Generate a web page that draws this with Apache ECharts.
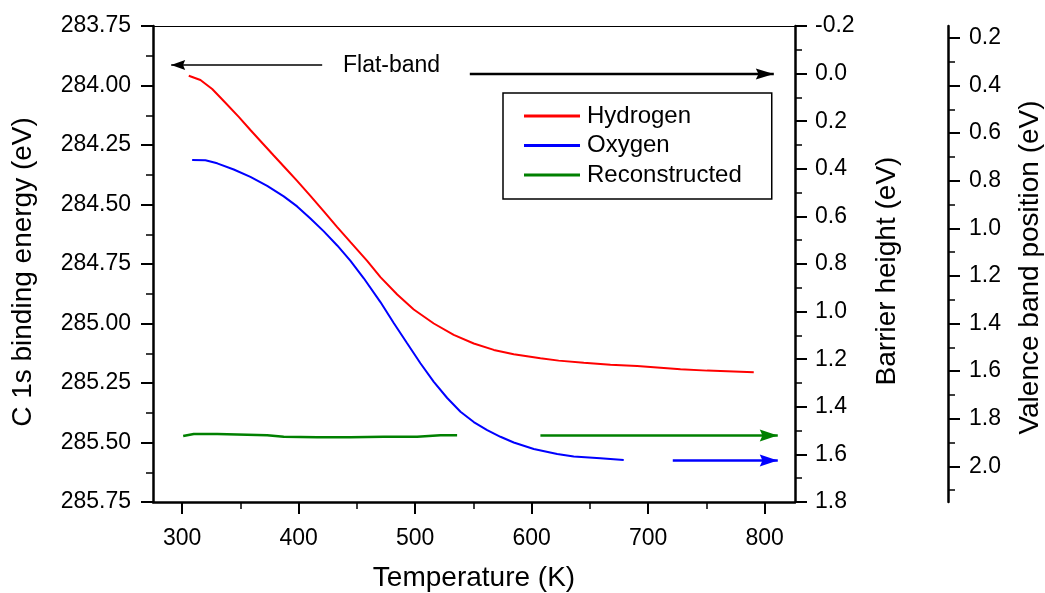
<!DOCTYPE html>
<html>
<head>
<meta charset="utf-8">
<title>C 1s binding energy vs temperature</title>
<script src="https://cdn.jsdelivr.net/npm/echarts@6/dist/echarts.min.js"></script>
<style>
  html, body { margin: 0; padding: 0; background: #fff; }
  #chart { width: 1045px; height: 593px; }
</style>
</head>
<body>
<div id="chart"></div>
<script>
// Hydrogen-terminated surface: temperature (K) and C 1s binding energy (eV)
const hydrogenT  = [305.7, 315.7, 325.8, 335.7, 348.6, 358.6, 367.2, 378.6, 390.1, 398.7, 410.1, 421.6, 433.1, 444.5, 458.8, 470.2, 484.6, 498.8, 516.0, 533.1, 550.3, 567.5, 584.6, 607.5, 623.2, 644.7, 667.6, 690.5, 704.8, 727.7, 750.6, 790.6];
const hydrogenBE = [283.959, 283.977, 284.015, 284.065, 284.132, 284.187, 284.233, 284.294, 284.355, 284.401, 284.464, 284.529, 284.595, 284.658, 284.737, 284.805, 284.878, 284.941, 285.000, 285.048, 285.084, 285.111, 285.129, 285.146, 285.156, 285.165, 285.173, 285.179, 285.184, 285.192, 285.198, 285.205];

// Oxygen-terminated surface
const oxygenT  = [308.6, 320.0, 330.1, 344.3, 358.6, 373.0, 387.2, 398.7, 410.1, 421.6, 433.1, 444.5, 455.9, 470.2, 481.6, 493.1, 504.5, 516.0, 527.5, 538.9, 550.3, 561.8, 573.2, 584.6, 601.8, 621.9, 636.1, 659.0, 679.0];
const oxygenBE = [284.313, 284.314, 284.327, 284.353, 284.384, 284.422, 284.466, 284.508, 284.559, 284.613, 284.672, 284.737, 284.810, 284.910, 284.998, 285.083, 285.167, 285.245, 285.313, 285.371, 285.414, 285.448, 285.476, 285.500, 285.527, 285.548, 285.559, 285.566, 285.574];

// Reconstructed surface
const reconT  = [300.9, 310.0, 330.1, 373.0, 387.2, 415.9, 444.5, 473.1, 501.7, 521.7, 536.0];
const reconBE = [285.473, 285.464, 285.464, 285.470, 285.476, 285.478, 285.478, 285.476, 285.476, 285.470, 285.470];

// Continuation arrows at high temperature [T, BE], tail then tip
const reconTail  = [[607.5, 285.471], [811.2, 285.471]];
const oxygenTail = [[721.1, 285.576], [811.2, 285.576]];

// Flat-band arrows [T, BE], tail then tip
const flatLeft  = [[420.2, 283.914], [290.6, 283.914]];
const flatRight = [[546.9, 283.952], [807.8, 283.952]];

// Axis ticks
const tempMajor = [300, 400, 500, 600, 700, 800];
const tempMinor = [350, 450, 550, 650, 750];
const vbMajor = [0.2, 0.4, 0.6, 0.8, 1.0, 1.2, 1.4, 1.6, 1.8, 2.0];
const vbMinor = [0.3, 0.5, 0.7, 0.9, 1.1, 1.3, 1.5, 1.7, 1.9, 2.1];

const FONT = "'Liberation Sans', Arial, sans-serif";
const zip = (xs, ys) => xs.map((x, i) => [x, ys[i]]);

const axisLine = { show: true, onZero: false, lineStyle: { color: '#000', width: 2.5 } };
const majorTick = { show: true, inside: false, length: 12, lineStyle: { color: '#000', width: 2 } };
const minorTickAxis = { show: true, inside: false, length: 7, lineStyle: { color: '#000', width: 1.5 } };
const labelStyle = { color: '#000', fontSize: 23, fontFamily: FONT };
const nameStyle = { color: '#000', fontSize: 28, fontFamily: FONT };

// Rotated axis titles sit a little below the vertical centre of the plot
const shiftedName = pad => Object.assign({}, nameStyle, { padding: [0, pad, 0, 0] });

// Solid arrow heads with a shallow notch
const HEAD_RIGHT = 'path://M20,5L0,10L3,5L0,0Z';
const HEAD_LEFT  = 'path://M0,5L20,0L17,5L20,10Z';

// A straight arrow drawn as a two-point line whose last point carries the head;
// the head is shifted back so its tip lands on the last point
function arrowSeries(name, pts, color, width, head, size) {
  const dir = pts[1][0] > pts[0][0] ? -1 : 1;
  return {
    name: name, type: 'line', xAxisIndex: 0, yAxisIndex: 0,
    silent: true, showSymbol: true, emphasis: { disabled: true },
    lineStyle: { color: color, width: width }, itemStyle: { color: color },
    data: [
      { value: pts[0], symbol: 'none' },
      { value: pts[1], symbol: head, symbolSize: size, symbolOffset: [dir * size[0] / 2, 0] }
    ]
  };
}

const chart = echarts.init(document.getElementById('chart'), null, { renderer: 'canvas' });

chart.setOption({
  animation: false,
  backgroundColor: '#fff',
  grid: { left: 153, right: 250, top: 26, bottom: 91, containLabel: false, outerBoundsMode: 'none' },
  legend: {
    orient: 'vertical',
    left: 503, top: 93,
    padding: [11, 30, 12, 21],
    itemWidth: 56, itemHeight: 3, itemGap: 5.5,
    icon: 'rect',
    selectedMode: false,
    borderColor: '#000', borderWidth: 1.5, backgroundColor: '#fff',
    textStyle: { color: '#000', fontSize: 24, fontFamily: FONT, lineHeight: 24, padding: [0, 0, 0, 2] },
    data: ['Hydrogen', 'Oxygen', 'Reconstructed']
  },
  graphic: [{
    type: 'text', x: 343, y: 66, silent: true,
    style: { text: 'Flat-band', fill: '#000', fontSize: 23, fontFamily: FONT, verticalAlign: 'middle' }
  }],
  xAxis: [
    {
      type: 'value', position: 'bottom', min: 275, max: 826,
      name: 'Temperature (K)', nameLocation: 'middle', nameGap: 62, nameTextStyle: nameStyle,
      axisLine: axisLine,
      axisTick: Object.assign({}, majorTick, { customValues: tempMajor }),
      axisLabel: Object.assign({}, labelStyle, { margin: 25, customValues: tempMajor }),
      splitLine: { show: false }
    },
    {
      type: 'value', position: 'bottom', min: 275, max: 826,
      axisLine: { show: false, onZero: false },
      axisTick: Object.assign({}, minorTickAxis, { customValues: tempMinor }),
      axisLabel: { show: false },
      splitLine: { show: false }
    },
    {
      type: 'value', position: 'top', min: 275, max: 826,
      axisLine: { show: true, onZero: false, lineStyle: { color: '#000', width: 1.2 } },
      axisTick: { show: false }, axisLabel: { show: false }, splitLine: { show: false }
    }
  ],
  yAxis: [
    {
      type: 'value', position: 'left', inverse: true,
      min: 283.75, max: 285.75, interval: 0.25,
      name: 'C 1s binding energy (eV)', nameLocation: 'middle', nameGap: 116, nameRotate: 90,
      nameTextStyle: shiftedName(16),
      axisLine: axisLine, axisTick: majorTick,
      minorTick: { show: true, splitNumber: 2, length: 7, lineStyle: { color: '#000', width: 1.5 } },
      axisLabel: Object.assign({}, labelStyle, { margin: 22, formatter: v => v.toFixed(2) }),
      splitLine: { show: false }, minorSplitLine: { show: false }
    },
    {
      type: 'value', position: 'right', inverse: true,
      min: -0.2, max: 1.8, interval: 0.2,
      name: 'Barrier height (eV)', nameLocation: 'middle', nameGap: 78, nameRotate: 90,
      nameTextStyle: shiftedName(14),
      axisLine: axisLine, axisTick: majorTick,
      minorTick: { show: true, splitNumber: 2, length: 7, lineStyle: { color: '#000', width: 1.5 } },
      axisLabel: Object.assign({}, labelStyle, { margin: 20, formatter: v => v.toFixed(1) }),
      splitLine: { show: false }, minorSplitLine: { show: false }
    },
    {
      type: 'value', position: 'right', offset: 153, inverse: true,
      min: 0.15, max: 2.15,
      name: 'Valence band position (eV)', nameLocation: 'middle', nameGap: 68, nameRotate: 90,
      nameTextStyle: shiftedName(7),
      axisLine: axisLine,
      axisTick: Object.assign({}, majorTick, { customValues: vbMajor }),
      axisLabel: Object.assign({}, labelStyle, { margin: 21, customValues: vbMajor, formatter: v => v.toFixed(1) }),
      splitLine: { show: false }
    },
    {
      type: 'value', position: 'right', offset: 153, inverse: true,
      min: 0.15, max: 2.15,
      axisLine: { show: false, onZero: false },
      axisTick: Object.assign({}, minorTickAxis, { customValues: vbMinor }),
      axisLabel: { show: false },
      splitLine: { show: false }
    }
  ],
  series: [
    {
      name: 'Hydrogen', type: 'line', xAxisIndex: 0, yAxisIndex: 0,
      data: zip(hydrogenT, hydrogenBE), showSymbol: false,
      lineStyle: { color: '#ff0000', width: 2 }, itemStyle: { color: '#ff0000' }
    },
    {
      name: 'Oxygen', type: 'line', xAxisIndex: 0, yAxisIndex: 0,
      data: zip(oxygenT, oxygenBE), showSymbol: false,
      lineStyle: { color: '#0000ff', width: 2 }, itemStyle: { color: '#0000ff' }
    },
    {
      name: 'Reconstructed', type: 'line', xAxisIndex: 0, yAxisIndex: 0,
      data: zip(reconT, reconBE), showSymbol: false,
      lineStyle: { color: '#008000', width: 2.5 }, itemStyle: { color: '#008000' }
    },
    arrowSeries('Oxygen tail', oxygenTail, '#0000ff', 2.5, HEAD_RIGHT, [18, 12]),
    arrowSeries('Reconstructed tail', reconTail, '#008000', 2.5, HEAD_RIGHT, [18, 12]),
    arrowSeries('Flat-band left', flatLeft, '#000', 1.5, HEAD_LEFT, [14, 10]),
    arrowSeries('Flat-band right', flatRight, '#000', 2.5, HEAD_RIGHT, [18, 11])
  ]
});
</script>
</body>
</html>
